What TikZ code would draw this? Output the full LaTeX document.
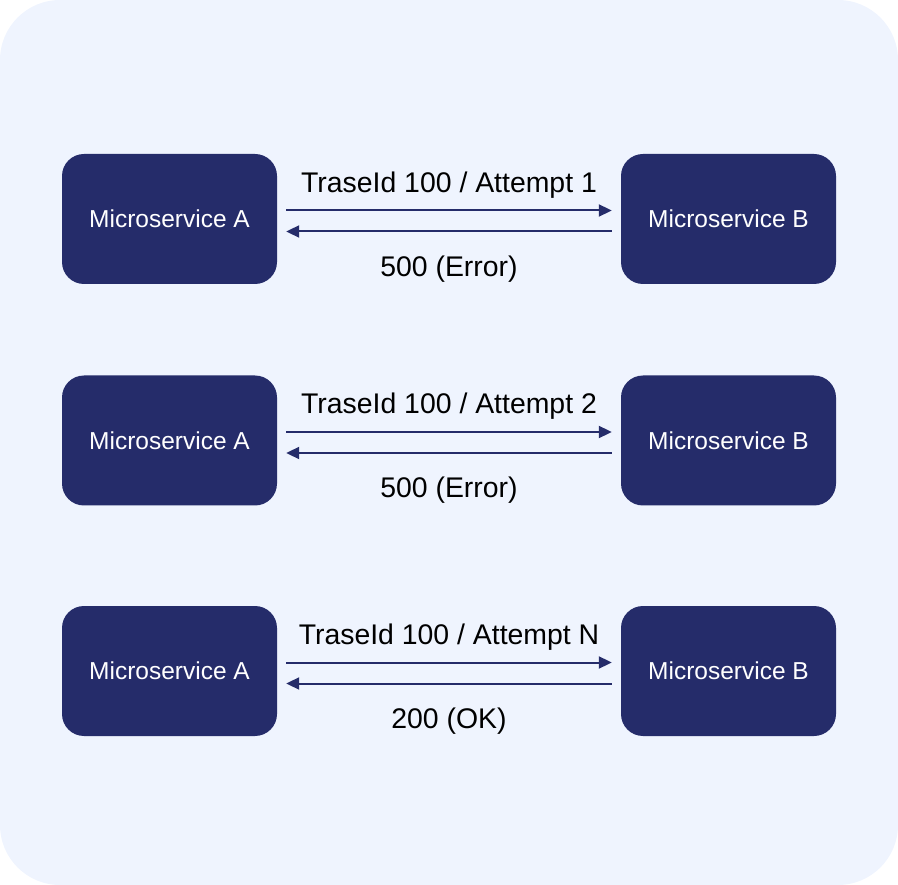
\documentclass[tikz,border=0pt]{standalone}
\usepackage{fontspec}
\setmainfont{Liberation Sans}
\usetikzlibrary{arrows.meta}
\definecolor{bgc}{HTML}{EFF4FE}
\definecolor{boxc}{HTML}{252C6A}
\tikzset{
  svc/.style={draw=none, fill=boxc, rounded corners=22pt, minimum width=215pt, minimum height=130pt, text=white, font=\fontsize{24.5}{29}\selectfont, inner sep=0pt},
  lbl/.style={font=\fontsize{28.4}{34}\selectfont, text=black, inner sep=0pt},
  msg/.style={draw=boxc, line width=2pt, -{Triangle[length=13pt,width=12pt]}}
}
\begin{document}
\begin{tikzpicture}[x=1pt,y=-1pt]
\fill[bgc, rounded corners=60pt] (0,0) rectangle (898,885);
\useasboundingbox (0,0) rectangle (898,885);
\foreach \i/\cy/\t/\r in {1/219/{TraseId 100 / Attempt 1}/{500 (Error)}, 2/440.5/{TraseId 100 / Attempt 2}/{500 (Error)}, 3/671/{TraseId 100 / Attempt N}/{200 (OK)}}{
  \node[svc] (a\i) at (169.5,\cy) {Microservice A};
  \node[svc] (b\i) at (728.5,\cy) {Microservice B};
  \draw[msg] ([xshift=9pt,yshift=8.5pt]a\i.east) -- ([xshift=-9pt,yshift=8.5pt]b\i.west);
  \draw[msg] ([xshift=-9pt,yshift=-12.5pt]b\i.west) -- ([xshift=9pt,yshift=-12.5pt]a\i.east);
  \node[lbl] (t\i) at (449,\cy-34) {\t};
  \node[lbl] (r\i) at (449,\cy+50) {\r};
}
\end{tikzpicture}
\end{document}
